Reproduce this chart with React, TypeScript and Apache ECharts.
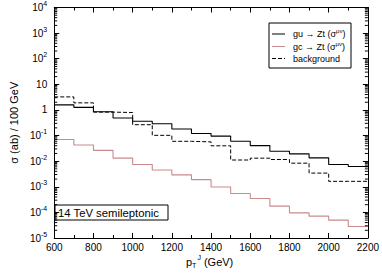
import React, { useEffect, useRef } from "react";
import * as echarts from "echarts";

const binEdges = [600, 700, 800, 900, 1000, 1100, 1200, 1300, 1400, 1500, 1600, 1700, 1800, 1900, 2000, 2100, 2200];
const guZt = [1.58, 1.26, 0.845, 0.482, 0.362, 0.29, 0.18, 0.1205, 0.0948, 0.0596, 0.0405, 0.0244, 0.0193, 0.0135, 0.00743, 0.00622];
const gcZt = [0.0706, 0.0425, 0.0264, 0.0131, 0.00743, 0.00455, 0.00291, 0.0019, 0.00098, 0.000543, 0.000348, 0.000175, 0.0000959, 0.0000714, 0.00005, 0.000028];
const background = [3.23, 1.89, 0.822, 0.794, 0.265, 0.102, 0.0596, 0.0565, 0.0398, 0.0111, 0.0131, 0.0116, 0.00835, 0.00342, 0.00163, 0.00163];
const decades = [-5, -4, -3, -2, -1, 0, 1, 2, 3];
const minorMultipliers = [2, 3, 4, 5, 6, 7, 8, 9];
const legendLabels = ["gu → Zt (σ", "gc → Zt (σ", "background"];
const annotation = "14 TeV semileptonic";

const FONT = "'Liberation Sans', Arial, Helvetica, sans-serif";
const RED = "#c98a8a";

function stepData(vals: number[]) {
  return binEdges.map((x, i) => [x, vals[Math.min(i, vals.length - 1)]]);
}

export default function App() {
  const ref = useRef<HTMLDivElement>(null);
  useEffect(() => {
    if (!ref.current) return;
    const chart = echarts.init(ref.current, null, { renderer: "svg" });
    const minorVals: number[][] = [];
    decades.forEach((d) => minorMultipliers.forEach((k) => minorVals.push([600, k * Math.pow(10, d)])));

    const axisLine = { show: true, lineStyle: { color: "#000", width: 1 } };
    const xCommon = {
      type: "value",
      min: 600,
      max: 2200,
      interval: 200,
      axisLine,
      axisTick: { show: true, inside: true, length: 5, lineStyle: { color: "#000" } },
      minorTick: { show: true, splitNumber: 2, length: 3, lineStyle: { color: "#000" } },
      splitLine: { show: false },
    };
    const yCommon = {
      type: "log",
      logBase: 10,
      min: 1e-5,
      max: 1e4,
      splitNumber: 9,
      axisLine,
      axisTick: { show: true, inside: true, length: 5, lineStyle: { color: "#000" } },
      splitLine: { show: false },
    };

    const legendY = [34, 46.5, 58.5];
    const legendStyles = [
      { stroke: "#000", lineWidth: 1 },
      { stroke: RED, lineWidth: 1 },
      { stroke: "#000", lineWidth: 1, lineDash: [4, 2] },
    ];

    const option: any = {
      animation: false,
      backgroundColor: "#fff",
      grid: { left: 38, right: 13, top: 6, bottom: 35 },
      xAxis: [
        {
          ...xCommon,
          position: "bottom",
          axisLabel: {
            show: true,
            margin: 4,
            fontSize: 10,
            fontFamily: FONT,
            color: "#000",
            formatter: (v: number) => String(v),
          },
        },
        { ...xCommon, position: "top", axisLabel: { show: false } },
      ],
      yAxis: [
        {
          ...yCommon,
          position: "left",
          name: "σ (ab) / 100 GeV",
          nameLocation: "middle",
          nameGap: 29,
          nameRotate: 90,
          nameTextStyle: { fontSize: 11, fontFamily: FONT, color: "#000" },
          axisLabel: {
            show: true,
            margin: 7,
            formatter: (v: number) => {
              const e = Math.round(Math.log10(v));
              if (e === 0) return "{b|1}";
              if (e === 1) return "{b|10}";
              return `{b|10}{s|${e}}`;
            },
            rich: {
              b: { fontSize: 10, fontFamily: FONT, color: "#000" },
              s: { fontSize: 7, fontFamily: FONT, color: "#000", padding: [0, 0, 8, 0] },
            },
          },
        },
        { ...yCommon, position: "right", axisLabel: { show: false } },
      ],
      series: [
        {
          type: "line",
          name: "background",
          step: "end",
          data: stepData(background),
          symbol: "none",
          lineStyle: { color: "#000", width: 1, type: [4, 2] },
          z: 3,
        },
        {
          type: "line",
          name: "gu",
          step: "end",
          data: stepData(guZt),
          symbol: "none",
          lineStyle: { color: "#000", width: 1.1 },
          z: 4,
        },
        {
          type: "line",
          name: "gc",
          step: "end",
          data: stepData(gcZt),
          symbol: "none",
          lineStyle: { color: RED, width: 1.1 },
          z: 4,
        },
        {
          type: "custom",
          silent: true,
          data: minorVals,
          z: 5,
          renderItem: (params: any, api: any) => {
            const v = api.value(1);
            const l = api.coord([600, v]);
            const r = api.coord([2200, v]);
            return {
              type: "group",
              children: [
                { type: "line", shape: { x1: l[0], y1: l[1], x2: l[0] + 3, y2: l[1] }, style: { stroke: "#000", lineWidth: 1 } },
                { type: "line", shape: { x1: r[0] - 3, y1: r[1], x2: r[0], y2: r[1] }, style: { stroke: "#000", lineWidth: 1 } },
              ],
            };
          },
        },
      ],
      graphic: [
        {
          type: "group",
          children: [
            { type: "rect", shape: { x: 269, y: 23, width: 82, height: 45 }, style: { fill: "#fff", stroke: "#000", lineWidth: 1 } },
            ...legendY.map((y, i) => ({
              type: "line",
              shape: { x1: 272, y1: y, x2: 285, y2: y },
              style: legendStyles[i],
            })),
            ...legendY.map((y, i) => ({
              type: "text",
              style: {
                x: 293,
                y,
                verticalAlign: "middle",
                text: i < 2 ? `{n|${legendLabels[i]}}{s|μν}{n|)}` : `{n|${legendLabels[i]}}`,
                rich: {
                  n: { fontSize: 9, fontFamily: FONT, fill: "#000" },
                  s: { fontSize: 6, fontFamily: FONT, fill: "#000", padding: [0, 0, 6, 0] },
                },
              },
            })),
          ],
        },
        {
          type: "rect",
          shape: { x: 55, y: 205, width: 113, height: 15 },
          style: { fill: "#fff", stroke: "#000", lineWidth: 1 },
        },
        {
          type: "text",
          style: { x: 58, y: 212.5, verticalAlign: "middle", text: annotation, fontSize: 11.3, fontFamily: FONT, fill: "#000" },
        },
        {
          type: "text",
          style: {
            x: 186,
            y: 262,
            verticalAlign: "middle",
            text: "{p|p}{t|T}{j|J}{n| (GeV)}",
            rich: {
              p: { fontSize: 11, fontFamily: FONT, fill: "#000" },
              t: { fontSize: 7, fontFamily: FONT, fill: "#000", padding: [7, 0, 0, 0] },
              j: { fontSize: 7, fontFamily: FONT, fill: "#000", padding: [0, 0, 10, 1] },
              n: { fontSize: 11, fontFamily: FONT, fill: "#000" },
            },
          },
        },
      ],
    };
    chart.setOption(option);
    return () => chart.dispose();
  }, []);
  return <div ref={ref} style={{ position: "fixed", left: 0, top: 0, width: 382, height: 273 }} />;
}
